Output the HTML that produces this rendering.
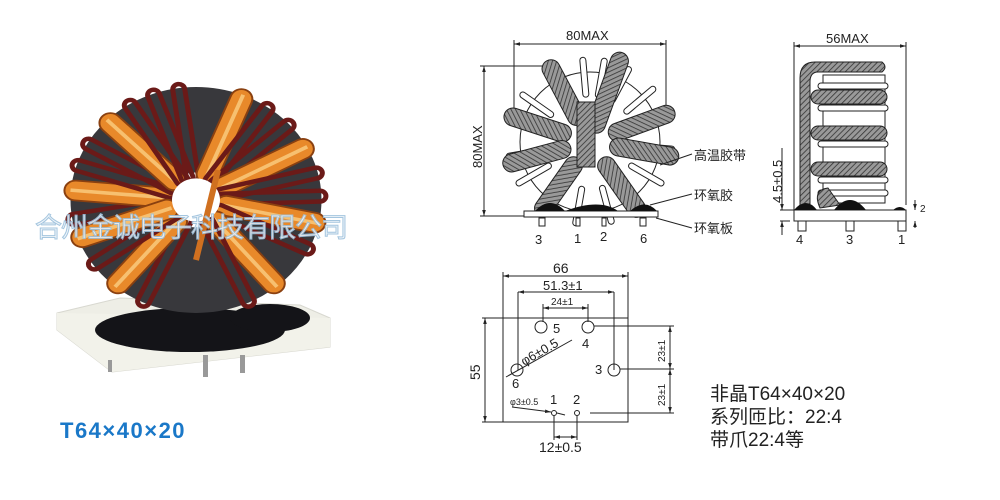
<!DOCTYPE html>
<html><head><meta charset="utf-8"><style>
body{margin:0;background:#fff;width:1000px;height:500px;overflow:hidden}
svg{display:block}
text{font-family:"Liberation Sans","Noto Sans CJK SC",sans-serif;fill:#222}
</style></head><body>
<svg width="1000" height="500" viewBox="0 0 1000 500" xmlns="http://www.w3.org/2000/svg">
<defs>
<pattern id="h" width="4" height="4" patternUnits="userSpaceOnUse" patternTransform="rotate(45)">
<rect width="4" height="4" fill="#999"/><line x1="0" y1="0" x2="0" y2="4" stroke="#333" stroke-width="1.6"/></pattern>
<marker id="a" viewBox="0 0 10 10" refX="10" refY="5" markerWidth="6" markerHeight="6" orient="auto-start-reverse"><path d="M0,2 L10,5 L0,8z" fill="#222"/></marker>
<g id="or"><rect x="-11" y="-132" width="22" height="112" rx="11" fill="#e8892a" stroke="#8a4010" stroke-width="2"/><line x1="0" y1="-126" x2="0" y2="-26" stroke="#f7c070" stroke-width="4"/></g>
<g id="mr"><rect x="-6" y="-130" width="12" height="110" rx="6" fill="none" stroke="#6b1a18" stroke-width="5"/></g>
</defs>

<!-- photo -->
<polygon points="57,313 120,298 300,305 330,318 330,347 112,372 57,330" fill="#eeeee6" stroke="#d8d8d0"/>
<polygon points="57,313 330,318 330,347 112,372 57,330" fill="#f2f2ea"/>
<rect x="108" y="360" width="4" height="12" fill="#999"/>
<rect x="203" y="355" width="5" height="22" fill="#999"/>
<rect x="240" y="355" width="5" height="18" fill="#999"/>
<ellipse cx="190" cy="330" rx="95" ry="22" fill="#141418"/>
<ellipse cx="270" cy="318" rx="40" ry="14" fill="#141418"/>
<g transform="translate(196,200) scale(1,0.9)">
<circle r="78" fill="none" stroke="#38383c" stroke-width="95"/>
<g>
<use href="#mr" transform="rotate(-100)"/><use href="#or" transform="rotate(-85)"/><use href="#mr" transform="rotate(-72)"/><use href="#mr" transform="rotate(-60)"/>
<use href="#or" transform="rotate(-45)"/><use href="#mr" transform="rotate(-32)"/><use href="#mr" transform="rotate(-20)"/><use href="#mr" transform="rotate(-8)"/>
<use href="#or" transform="rotate(22)"/><use href="#mr" transform="rotate(35)"/><use href="#mr" transform="rotate(48)"/><use href="#or" transform="rotate(62)"/>
<use href="#mr" transform="rotate(76)"/><use href="#mr" transform="rotate(88)"/><use href="#or" transform="rotate(102)"/><use href="#mr" transform="rotate(116)"/>
<use href="#or" transform="rotate(140)"/><use href="#mr" transform="rotate(155)"/>
<use href="#mr" transform="rotate(205)"/><use href="#or" transform="rotate(220)"/><use href="#mr" transform="rotate(235)"/><use href="#or" transform="rotate(250)"/>
</g>
<circle r="24" fill="#fff"/>
</g>
<line x1="196" y1="260" x2="218" y2="170" stroke="#d07020" stroke-width="6"/>
<text x="35" y="237" font-size="27" style="fill:#eef4fa;stroke:#9cc0dc;stroke-width:1;opacity:0.9" letter-spacing="-1">合州金诚电子科技有限公司</text>
<text x="60" y="438" font-size="22" font-weight="bold" letter-spacing="1.5" style="fill:#1a78c8">T64×40×20</text>

<!-- top view -->
<g stroke="#222" fill="none" stroke-width="1">
<line x1="514" y1="40" x2="514" y2="112"/><line x1="666" y1="40" x2="666" y2="123"/>
<line x1="514" y1="44" x2="666" y2="44" marker-start="url(#a)" marker-end="url(#a)"/>
<line x1="480" y1="66" x2="560" y2="66"/><line x1="480" y1="216" x2="525" y2="216"/>
<line x1="484" y1="66" x2="484" y2="216" marker-start="url(#a)" marker-end="url(#a)"/>
<circle cx="590" cy="142" r="70"/>
</g>
<g stroke="#222" stroke-width="1" fill="#fff">
<g transform="translate(590,142)">
<rect x="-3" y="-85" width="6" height="40" rx="3" transform="rotate(-5)"/><rect x="-3" y="-85" width="6" height="40" rx="3" transform="rotate(10)"/>
<rect x="-3" y="-85" width="6" height="40" rx="3" transform="rotate(-25)"/><rect x="-3" y="-85" width="6" height="40" rx="3" transform="rotate(28)"/>
<rect x="-3" y="-85" width="6" height="40" rx="3" transform="rotate(-55)"/><rect x="-3" y="-85" width="6" height="40" rx="3" transform="rotate(50)"/>
<rect x="-3" y="-85" width="6" height="40" rx="3" transform="rotate(-100)"/><rect x="-3" y="-85" width="6" height="40" rx="3" transform="rotate(95)"/>
<rect x="-3" y="-85" width="6" height="40" rx="3" transform="rotate(-120)"/><rect x="-3" y="-85" width="6" height="40" rx="3" transform="rotate(120)"/>
<rect x="-3" y="-85" width="6" height="40" rx="3" transform="rotate(165)"/><rect x="-3" y="-85" width="6" height="40" rx="3" transform="rotate(-170)"/>
<g fill="url(#h)">
<rect x="-9" y="-92" width="18" height="72" rx="9" transform="rotate(-28)"/>
<rect x="-9" y="-90" width="18" height="70" rx="9" transform="rotate(-72)"/>
<rect x="-9" y="-90" width="18" height="70" rx="9" transform="rotate(-105)"/>
<rect x="-9" y="-90" width="18" height="70" rx="9" transform="rotate(-145)"/>
<rect x="-9" y="-95" width="18" height="85" rx="9" transform="rotate(20)"/>
<rect x="-9" y="-90" width="18" height="70" rx="9" transform="rotate(70)"/>
<rect x="-9" y="-90" width="18" height="70" rx="9" transform="rotate(100)"/>
<rect x="-9" y="-90" width="18" height="70" rx="9" transform="rotate(145)"/>
</g>
<rect x="-13" y="-40" width="18" height="65" fill="url(#h)"/>
</g>
<rect x="524" y="211" width="134" height="6"/>
<rect x="539" y="218" width="6" height="8"/><rect x="576" y="218" width="4" height="8"/><rect x="602" y="218" width="4" height="8"/><rect x="640" y="218" width="6" height="8"/>
</g>
<path d="M535,211 Q550,195 565,211Z M565,211 Q600,198 618,211Z M630,211 Q645,198 657,211Z" fill="#111"/>
<g stroke="#222" stroke-width="1"><line x1="660" y1="165" x2="692" y2="154"/><line x1="650" y1="205" x2="692" y2="194"/><line x1="656" y1="218" x2="692" y2="228"/></g>
<text x="535" y="244" font-size="13">3</text><text x="574" y="243" font-size="13">1</text><text x="600" y="241" font-size="13">2</text><text x="640" y="243" font-size="13">6</text>
<text x="566" y="40" font-size="13">80MAX</text>
<text transform="translate(482,168) rotate(-90)" font-size="13">80MAX</text>
<text x="694" y="160" font-size="13">高温胶带</text><text x="694" y="200" font-size="13">环氧胶</text><text x="694" y="233" font-size="13">环氧板</text>

<!-- side view -->
<g stroke="#222" stroke-width="1" fill="none">
<line x1="794" y1="42" x2="794" y2="210"/><line x1="906" y1="42" x2="906" y2="205"/>
<line x1="794" y1="46" x2="906" y2="46" marker-start="url(#a)" marker-end="url(#a)"/>
<line x1="780" y1="210" x2="794" y2="210"/><line x1="780" y1="221" x2="790" y2="221"/>
<line x1="782" y1="148" x2="782" y2="210" marker-end="url(#a)"/><line x1="782" y1="235" x2="782" y2="221" marker-end="url(#a)"/>
<line x1="915" y1="200" x2="915" y2="210" marker-end="url(#a)"/><line x1="915" y1="228" x2="915" y2="221" marker-end="url(#a)"/>
</g>
<g stroke="#222" stroke-width="1" fill="#fff">
<rect x="823" y="75" width="62" height="128"/>
<rect x="818" y="83" width="70" height="6" rx="3"/><rect x="818" y="105" width="70" height="6" rx="3"/><rect x="818" y="141" width="70" height="6" rx="3"/><rect x="818" y="177" width="70" height="6" rx="3"/><rect x="818" y="190" width="70" height="6" rx="3"/>
<path d="M800,210 L800,78 Q800,62 815,62 L882,62 Q888,67 882,72 L818,72 Q810,72 810,82 L810,210Z" fill="url(#h)"/>
<rect x="811" y="90" width="76" height="14" rx="7" fill="url(#h)"/>
<rect x="811" y="126" width="76" height="14" rx="7" fill="url(#h)"/>
<rect x="811" y="162" width="76" height="14" rx="7" fill="url(#h)"/>
<path d="M820,208 Q812,190 828,188 L840,205Z" fill="url(#h)"/>
<rect x="794" y="210" width="112" height="11"/>
<rect x="798" y="221" width="8" height="10"/><rect x="846" y="221" width="8" height="10"/><rect x="898" y="221" width="8" height="10"/>
</g>
<path d="M794,210 Q806,196 817,210Z M834,210 Q850,190 866,210Z M893,210 Q900,204 906,210Z" fill="#111"/>
<text x="796" y="244" font-size="13">4</text><text x="846" y="244" font-size="13">3</text><text x="898" y="244" font-size="13">1</text>
<text x="826" y="43" font-size="13">56MAX</text>
<text transform="translate(782,203) rotate(-90)" font-size="13">4.5±0.5</text>
<text x="920" y="212" font-size="10">2</text>

<!-- footprint -->
<g stroke="#222" stroke-width="1" fill="none">
<rect x="503" y="318" width="125" height="104"/>
<line x1="503" y1="272" x2="503" y2="318"/><line x1="628" y1="272" x2="628" y2="318"/>
<line x1="503" y1="276" x2="628" y2="276" marker-start="url(#a)" marker-end="url(#a)"/>
<line x1="518" y1="292" x2="518" y2="370"/><line x1="614" y1="292" x2="614" y2="370"/>
<line x1="518" y1="292" x2="614" y2="292" marker-start="url(#a)" marker-end="url(#a)"/>
<line x1="543" y1="304" x2="543" y2="322"/><line x1="588" y1="304" x2="588" y2="322"/>
<line x1="543" y1="308" x2="588" y2="308" marker-start="url(#a)" marker-end="url(#a)"/>
<line x1="485" y1="318" x2="485" y2="422" marker-start="url(#a)" marker-end="url(#a)"/>
<line x1="482" y1="318" x2="503" y2="318"/><line x1="482" y1="422" x2="503" y2="422"/>
<circle cx="541" cy="327" r="6"/><circle cx="588" cy="327" r="6"/><circle cx="517" cy="370" r="6"/><circle cx="614" cy="370" r="6"/>
<circle cx="554" cy="413" r="2.5"/><circle cx="577" cy="413" r="2.5"/>
<line x1="594" y1="326" x2="674" y2="326"/><line x1="620" y1="369" x2="674" y2="369"/><line x1="590" y1="413" x2="674" y2="413"/>
<line x1="670" y1="326" x2="670" y2="369" marker-start="url(#a)" marker-end="url(#a)"/>
<line x1="670" y1="369" x2="670" y2="413" marker-start="url(#a)" marker-end="url(#a)"/>
<line x1="506" y1="377" x2="572" y2="340"/>
<line x1="512" y1="407" x2="551" y2="412" marker-end="url(#a)"/><line x1="557" y1="413" x2="565" y2="415"/>
<line x1="554" y1="416" x2="554" y2="440"/><line x1="577" y1="416" x2="577" y2="440"/>
<line x1="554" y1="437" x2="577" y2="437" marker-start="url(#a)" marker-end="url(#a)"/>
</g>
<text x="553" y="273" font-size="14">66</text>
<text x="543" y="290" font-size="13">51.3±1</text>
<text x="551" y="305" font-size="10">24±1</text>
<text x="553" y="333" font-size="13">5</text><text x="582" y="348" font-size="13">4</text>
<text x="512" y="388" font-size="13">6</text><text x="595" y="374" font-size="13">3</text>
<text x="550" y="404" font-size="13">1</text><text x="573" y="404" font-size="13">2</text>
<text transform="translate(524,366) rotate(-30)" font-size="13">φ6±0.5</text>
<text x="510" y="405" font-size="9">φ3±0.5</text>
<text x="539" y="452" font-size="14">12±0.5</text>
<text transform="translate(480,380) rotate(-90)" font-size="14">55</text>
<text transform="translate(665,362) rotate(-90)" font-size="10">23±1</text>
<text transform="translate(665,406) rotate(-90)" font-size="10">23±1</text>
<text x="710" y="400" font-size="19">非晶T64×40×20</text>
<text x="710" y="423" font-size="19">系列匝比：22:4</text>
<text x="710" y="446" font-size="19">带爪22:4等</text>
</svg>
</body></html>
